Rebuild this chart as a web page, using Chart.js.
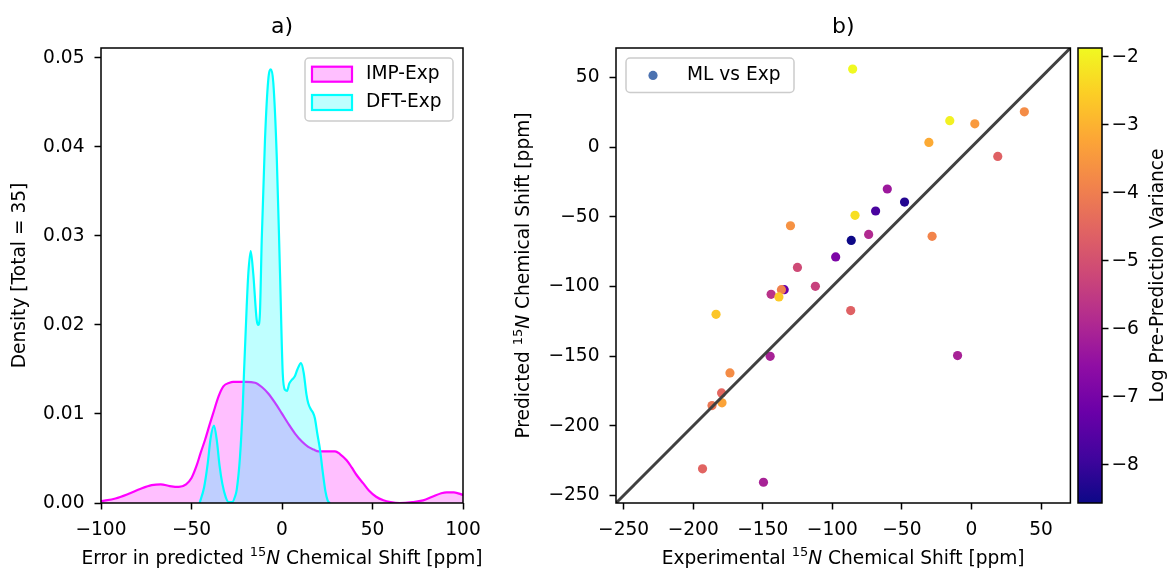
<!DOCTYPE html>
<html>
<head>
<meta charset="utf-8">
<script src="https://cdn.jsdelivr.net/npm/chart.js@4.4.1/dist/chart.umd.min.js"></script>
<style>
  html, body { margin: 0; padding: 0; background: #fff; }
  #wrap { position: relative; width: 1169px; height: 571px; overflow: hidden; }
  canvas { position: absolute; top: 0; }
</style>
</head>
<body>
<div id="wrap">
  <canvas id="chartKde" width="510" height="571" style="left:0"></canvas>
  <canvas id="chartScatter" width="565" height="571" style="left:510px"></canvas>
  <canvas id="chartBar" width="94" height="571" style="left:1075px"></canvas>
</div>
<script>
// panel a) : densitas error (KDE)
const impX = [-100, -92, -85, -78, -72, -67, -62, -57, -53, -50, -47, -45, -42.5, -40, -38, -35, -32.4, -29, -27, -20,
  -14.9, -11, -7.6, -4, -0.2, 3.5, 7.2, 11, 14.5, 17.5, 20.1, 25, 29.3, 32, 35.7, 38.5, 41, 44.9, 48, 52,
  56, 60, 65, 72, 78, 83, 88, 91, 95, 100];
const impY = [0.0002, 0.0005, 0.0010, 0.0016, 0.0020, 0.0021, 0.0019, 0.0018, 0.0021, 0.0028, 0.0043, 0.0056, 0.0071, 0.0088, 0.0101, 0.0120, 0.0131, 0.0135, 0.0136, 0.0136,
  0.0135, 0.0130, 0.0123, 0.0113, 0.0101, 0.0089, 0.0078, 0.0069, 0.0063, 0.0060, 0.0058, 0.0058, 0.0058, 0.0055, 0.0048, 0.0040, 0.0032, 0.0022, 0.0014, 0.0007,
  0.0003, 0.0001, 0.0000, 0.0001, 0.0003, 0.0007, 0.0011, 0.0012, 0.0012, 0.0009];
const dftX = [-45.5, -43, -41, -39.5, -37.6, -36, -34.5, -33, -31, -29.5, -27.5, -26, -25, -23.2, -21.7, -21, -19.5, -18.6, -17.3, -15.9,
  -14, -13.1, -12.2, -11.2, -9.4, -7.6, -6.1, -4.8, -2.9, -1.1, 0.4, 1.7, 2.8, 4, 5.3, 7, 8.5, 10.5, 12, 13.5,
  14.5, 16, 17, 18.2, 19.5, 21, 22.5, 24, 25.2, 26.5];
const dftY = [0, 0.0018, 0.0045, 0.0072, 0.0087, 0.0070, 0.0042, 0.0022, 0.0006, 0.0001, 0.0001, 0.0007, 0.0015, 0.0052, 0.0108, 0.0146, 0.0221, 0.0258, 0.0283, 0.0258,
  0.0206, 0.0200, 0.0213, 0.0295, 0.0408, 0.0475, 0.0487, 0.0472, 0.0389, 0.0258, 0.0146, 0.0127, 0.0126, 0.0134, 0.0138, 0.0142, 0.0150, 0.0157, 0.0146, 0.0122,
  0.0112, 0.0105, 0.0102, 0.0095, 0.0078, 0.0060, 0.0035, 0.0013, 0.0003, 0];

// panel b) : prediksi vs eksperimen
const expShift = [-85.4, -15.6, 2.4, 38.0, -30.6, 18.9, -60.5, -48.1, -68.9, -83.7, -130.1, -28.3, -73.9, -86.4, -97.6, -125.1,
  -112.2, -144.0, -134.6, -136.6, -138.4, -183.6, -86.8, -144.7, -10.0, -173.6, -179.6, -186.5, -179.3, -193.3, -149.5];
const predShift = [56.0, 18.9, 16.7, 25.3, 3.3, -6.7, -30.1, -39.5, -45.9, -49.0, -56.5, -64.1, -62.7, -67.0, -78.9, -86.4,
  -100.0, -105.7, -102.4, -102.4, -107.6, -120.1, -117.4, -150.2, -149.7, -162.1, -176.5, -185.6, -183.6, -231.0, -240.6];
const logVar = [-1.87, -2.0, -3.44, -3.72, -3.14, -4.61, -6.30, -8.26, -7.76, -2.27, -3.61, -3.88, -5.88, -8.56, -6.89, -5.15,
  -5.35, -5.68, -7.22, -3.94, -2.61, -2.67, -4.61, -6.08, -6.08, -3.72, -4.48, -4.14, -3.27, -4.55, -6.08];
const shiftMin = -255.5;
const shiftMax = 71.1;
const cbMin = -8.56;
const cbMax = -1.87;

// colormap plasma
const plasmaStops = ["#0d0887", "#41049d", "#6a00a8", "#8f0da4", "#b12a90", "#cc4778",
  "#e16462", "#f2844b", "#fca636", "#fcce25", "#f0f921"];

function hexRgb(h) {
  return [1, 3, 5].map((i) => parseInt(h.slice(i, i + 2), 16));
}

function plasma(v) {
  let t = (v - cbMin) / (cbMax - cbMin);
  t = Math.max(0, Math.min(1, t)) * (plasmaStops.length - 1);
  const i = Math.min(Math.floor(t), plasmaStops.length - 2);
  const f = t - i;
  const a = hexRgb(plasmaStops[i]);
  const b = hexRgb(plasmaStops[i + 1]);
  const c = a.map((x, k) => Math.round(x + (b[k] - x) * f));
  return "rgb(" + c.join(",") + ")";
}

const minus = (v) => String(v).replace("-", "\u2212");

const FS = 18.6;
const FAMILY = '"DejaVu Sans", sans-serif';
Chart.defaults.font.family = FAMILY;
Chart.defaults.font.size = FS;
Chart.defaults.color = "#000";

const tickGrid = {
  drawOnChartArea: false,
  drawTicks: true,
  tickLength: 6.5,
  tickColor: "#000",
  tickWidth: 1.5,
};

// jangan biarkan label tick menggeser area plot
const noPad = (s) => {
  s.paddingLeft = 0;
  s.paddingRight = 0;
  s.paddingTop = 0;
  s.paddingBottom = 0;
};

// bingkai kotak di sekeliling area plot
const framePlugin = {
  id: "frame",
  afterDatasetsDraw(chart) {
    const { ctx, chartArea: a } = chart;
    ctx.save();
    ctx.strokeStyle = "#000";
    ctx.lineWidth = 1.5;
    ctx.strokeRect(a.left, a.top, a.width, a.height);
    ctx.restore();
  },
};

// legenda dalam kotak, di dalam area plot
function legendBox(items, box) {
  return {
    id: "legendBox",
    afterDraw(chart) {
      const { ctx, chartArea: a } = chart;
      const x = box.side === "right" ? a.right - 10 - box.w : a.left + 10;
      const y = a.top + 10;
      ctx.save();
      ctx.fillStyle = "rgba(255,255,255,0.8)";
      ctx.strokeStyle = "#cccccc";
      ctx.lineWidth = 1.5;
      ctx.beginPath();
      ctx.roundRect(x, y, box.w, box.h, 4);
      ctx.fill();
      ctx.stroke();
      ctx.font = FS + "px " + FAMILY;
      ctx.textBaseline = "middle";
      items.forEach((it, i) => {
        const cy = y + box.first + i * box.step;
        if (it.kind === "patch") {
          ctx.fillStyle = it.fill;
          ctx.fillRect(x + 7, cy - 7.5, 40, 15);
          ctx.strokeStyle = it.stroke;
          ctx.lineWidth = 2.2;
          ctx.strokeRect(x + 7, cy - 7.5, 40, 15);
        } else {
          ctx.fillStyle = it.fill;
          ctx.beginPath();
          ctx.arc(x + 27, cy, 4.6, 0, Math.PI * 2);
          ctx.fill();
        }
        ctx.fillStyle = "#000";
        ctx.fillText(it.label, x + 61, cy);
      });
      ctx.restore();
    },
  };
}

// judul sumbu dengan superscript 15 dan N miring
function shiftLabel(prefix) {
  return [
    { t: prefix, font: FS + "px " + FAMILY, dy: 0 },
    { t: "15", font: (FS * 0.7).toFixed(1) + "px " + FAMILY, dy: -7.5 },
    { t: "N", font: "italic " + FS + "px " + FAMILY, dy: 0 },
    { t: " Chemical Shift [ppm]", font: FS + "px " + FAMILY, dy: 0 },
  ];
}

function axisLabels(labels) {
  return {
    id: "axisLabels",
    afterDraw(chart) {
      const { ctx, chartArea: a } = chart;
      labels.forEach((lb) => {
        ctx.save();
        if (lb.axis === "x") {
          ctx.translate((a.left + a.right) / 2, lb.pos);
        } else {
          ctx.translate(lb.pos, (a.top + a.bottom) / 2);
          ctx.rotate(-Math.PI / 2);
        }
        ctx.fillStyle = "#000";
        ctx.textBaseline = "alphabetic";
        ctx.textAlign = "left";
        let total = 0;
        lb.parts.forEach((p) => {
          ctx.font = p.font;
          total += ctx.measureText(p.t).width;
        });
        let x = -total / 2;
        lb.parts.forEach((p) => {
          ctx.font = p.font;
          ctx.fillText(p.t, x, p.dy);
          x += ctx.measureText(p.t).width;
        });
        ctx.restore();
      });
    },
  };
}

const titleOpts = (text) => ({
  display: true,
  text: text,
  fullSize: false,
  font: { size: 22, weight: "normal" },
  color: "#000",
  padding: { top: 13.8, bottom: 7.8 },
});

// Chart a)
const impSet = {
  label: "IMP-Exp",
  data: impX.map((x, i) => ({ x, y: impY[i] })),
  borderColor: "#ff00ff",
  backgroundColor: "rgba(255,0,255,0.25)",
  fill: "origin",
  borderWidth: 2.2,
  pointRadius: 0,
  cubicInterpolationMode: "monotone",
  order: 2,
};
const dftSet = {
  label: "DFT-Exp",
  data: dftX.map((x, i) => ({ x, y: dftY[i] })),
  borderColor: "#00ffff",
  backgroundColor: "rgba(0,255,255,0.25)",
  fill: "origin",
  borderWidth: 2.2,
  pointRadius: 0,
  cubicInterpolationMode: "monotone",
  order: 1,
};

new Chart(document.getElementById("chartKde"), {
  type: "line",
  data: { datasets: [impSet, dftSet] },
  options: {
    responsive: false,
    animation: false,
    layout: { padding: { right: 47 } },
    plugins: {
      legend: { display: false },
      tooltip: { enabled: false },
      title: titleOpts("a)"),
    },
    scales: {
      x: {
        type: "linear",
        min: -100,
        max: 100,
        ticks: { stepSize: 50, padding: 10, maxRotation: 0, callback: minus },
        grid: tickGrid,
        border: { display: false },
        afterFit: (s) => { s.height = 68; noPad(s); },
      },
      y: {
        min: 0,
        max: 0.0511,
        ticks: { stepSize: 0.01, padding: 10, includeBounds: false, callback: (v) => v.toFixed(2) },
        grid: tickGrid,
        border: { display: false },
        title: { display: true, text: "Density [Total = 35]", padding: { top: 8.9, bottom: 0 } },
        afterFit: (s) => { s.width = 101; noPad(s); },
      },
    },
  },
  plugins: [
    framePlugin,
    legendBox(
      [impSet, dftSet].map((d) => ({ kind: "patch", label: d.label, fill: d.backgroundColor, stroke: d.borderColor })),
      { side: "right", w: 148, h: 63, first: 16.2, step: 28.3 }
    ),
    axisLabels([{ axis: "x", pos: 563.5, parts: shiftLabel("Error in predicted ") }]),
  ],
});

// Chart b)
new Chart(document.getElementById("chartScatter"), {
  type: "scatter",
  data: {
    datasets: [
      {
        label: "ML vs Exp",
        data: expShift.map((x, i) => ({ x, y: predShift[i] })),
        pointBackgroundColor: logVar.map(plasma),
        pointBorderWidth: 0,
        pointRadius: 4.6,
        order: 1,
      },
      {
        type: "line",
        label: "y = x",
        data: [{ x: shiftMin, y: shiftMin }, { x: shiftMax, y: shiftMax }],
        borderColor: "#404040",
        borderWidth: 3,
        pointRadius: 0,
        order: 0,
      },
    ],
  },
  options: {
    responsive: false,
    animation: false,
    layout: { padding: { right: 3.3 } },
    plugins: {
      legend: { display: false },
      tooltip: { enabled: false },
      title: titleOpts("b)"),
    },
    scales: {
      x: {
        type: "linear",
        min: shiftMin,
        max: shiftMax,
        ticks: { stepSize: 50, padding: 10, includeBounds: false, maxRotation: 0, callback: minus },
        grid: tickGrid,
        border: { display: false },
        afterFit: (s) => { s.height = 68; noPad(s); },
      },
      y: {
        min: shiftMin,
        max: shiftMax,
        ticks: { stepSize: 50, padding: 10, includeBounds: false, callback: minus },
        grid: tickGrid,
        border: { display: false },
        afterFit: (s) => { s.width = 106; noPad(s); },
      },
    },
  },
  plugins: [
    framePlugin,
    legendBox([{ kind: "dot", label: "ML vs Exp", fill: "#4c72b0" }], { side: "left", w: 168, h: 34.5, first: 17.4, step: 0 }),
    axisLabels([
      { axis: "x", pos: 563.5, parts: shiftLabel("Experimental ") },
      { axis: "y", pos: 19.3, parts: shiftLabel("Predicted ") },
    ]),
  ],
});

// Colorbar
const colorbarPlugin = {
  id: "colorbar",
  beforeDatasetsDraw(chart) {
    const { ctx, chartArea: a } = chart;
    const g = ctx.createLinearGradient(0, a.bottom, 0, a.top);
    plasmaStops.forEach((c, i) => g.addColorStop(i / (plasmaStops.length - 1), c));
    ctx.save();
    ctx.fillStyle = g;
    ctx.fillRect(a.left, a.top, a.width, a.height);
    ctx.restore();
  },
  afterDraw(chart) {
    const { ctx, chartArea: a } = chart;
    ctx.save();
    ctx.translate(83, (a.top + a.bottom) / 2);
    ctx.rotate(-Math.PI / 2);
    ctx.font = FS + "px " + FAMILY;
    ctx.fillStyle = "#000";
    ctx.textAlign = "center";
    ctx.textBaseline = "middle";
    ctx.fillText("Log Pre-Prediction Variance", 0, 0);
    ctx.restore();
  },
};

new Chart(document.getElementById("chartBar"), {
  type: "scatter",
  data: { datasets: [] },
  options: {
    responsive: false,
    animation: false,
    layout: { padding: { top: 48, bottom: 68, left: 3 } },
    plugins: { legend: { display: false }, tooltip: { enabled: false } },
    scales: {
      x: { display: false },
      y: {
        position: "right",
        min: cbMin,
        max: cbMax,
        ticks: { stepSize: 1, padding: 3, includeBounds: false, callback: minus },
        grid: tickGrid,
        border: { display: false },
        afterFit: (s) => { s.width = 67; noPad(s); },
      },
    },
  },
  plugins: [colorbarPlugin, framePlugin],
});
</script>
</body>
</html>
